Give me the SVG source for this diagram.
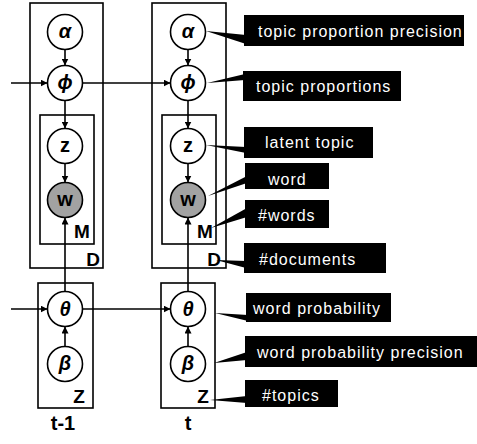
<svg xmlns="http://www.w3.org/2000/svg" width="477" height="444" viewBox="0 0 477 444">
<defs>
<marker id="arr" viewBox="0 0 10 10" refX="10" refY="5" markerWidth="7" markerHeight="7" markerUnits="userSpaceOnUse" orient="auto">
<path d="M0,0 L10,5 L0,10 z" fill="#000"/>
</marker>
</defs>
<style>
.plate{fill:none;stroke:#000;stroke-width:1.6}
.node{fill:#fff;stroke:#000;stroke-width:1.6}
.obs{fill:#a2a2a2;stroke:#000;stroke-width:1.6}
.edge{fill:none;stroke:#000;stroke-width:1.6;marker-end:url(#arr)}
.sym{font-family:"Liberation Sans",Arial,sans-serif;font-weight:bold;font-style:italic;font-size:20px;text-anchor:middle}
.var{font-family:"Liberation Sans",Arial,sans-serif;font-weight:bold;font-size:20px;text-anchor:middle}
.plab{font-family:"Liberation Sans",Arial,sans-serif;font-weight:bold;font-size:19px;text-anchor:middle}
.cbox{fill:#000}
.ctext{font-family:"Liberation Sans",Arial,sans-serif;font-size:16px;letter-spacing:1px;fill:#fff}
</style>
<rect width="477" height="444" fill="#fff"/>
<g id="plates">
<rect class="plate" x="30" y="3" width="73" height="265"/>
<rect class="plate" x="40" y="115" width="54" height="129"/>
<rect class="plate" x="38" y="283" width="55" height="125"/>
<rect class="plate" x="152" y="3" width="74" height="265"/>
<rect class="plate" x="162" y="115" width="54" height="129"/>
<rect class="plate" x="161" y="283" width="54" height="125"/>
<text class="plab" x="82" y="238">M</text>
<text class="plab" x="93" y="266">D</text>
<text class="plab" x="79" y="403">Z</text>
<text class="plab" x="205" y="238">M</text>
<text class="plab" x="214" y="266">D</text>
<text class="plab" x="203" y="403">Z</text>
</g>
<g id="connectors">
<line class="edge" x1="65" y1="49.5" x2="65" y2="65.5"/>
<line class="edge" x1="65" y1="100.5" x2="65" y2="128.5"/>
<line class="edge" x1="65" y1="163.5" x2="65" y2="182.5"/>
<line class="edge" x1="65" y1="291.5" x2="65" y2="217.5"/>
<line class="edge" x1="65" y1="346.5" x2="65" y2="326.5"/>
<line class="edge" x1="11" y1="83" x2="47.5" y2="83"/>
<line class="edge" x1="82.5" y1="83" x2="170.5" y2="83"/>
<line class="edge" x1="11" y1="309" x2="47.5" y2="309"/>
<line class="edge" x1="82.5" y1="309" x2="170.5" y2="309"/>
<line class="edge" x1="188" y1="49.5" x2="188" y2="65.5"/>
<line class="edge" x1="188" y1="100.5" x2="188" y2="128.5"/>
<line class="edge" x1="188" y1="163.5" x2="188" y2="182.5"/>
<line class="edge" x1="188" y1="291.5" x2="188" y2="217.5"/>
<line class="edge" x1="188" y1="346.5" x2="188" y2="326.5"/>
</g>
<g id="alpha-t1"><circle class="node" cx="65" cy="32" r="17.5"/><text class="sym" x="65" y="38">α</text></g>
<g id="phi-t1"><circle class="node" cx="65" cy="83" r="17.5"/><text class="sym" x="65" y="89">ϕ</text></g>
<g id="z-t1"><circle class="node" cx="65" cy="146" r="17.5"/><text class="var" x="65" y="152">z</text></g>
<g id="w-t1"><circle class="obs" cx="65" cy="200" r="17.5"/><text class="var" x="65" y="206">w</text></g>
<g id="theta-t1"><circle class="node" cx="65" cy="309" r="17.5"/><text class="sym" x="65" y="316">θ</text></g>
<g id="beta-t1"><circle class="node" cx="65" cy="364" r="17.5"/><text class="sym" x="65" y="370">β</text></g>
<g id="alpha-t"><circle class="node" cx="188" cy="32" r="17.5"/><text class="sym" x="188" y="38">α</text></g>
<g id="phi-t"><circle class="node" cx="188" cy="83" r="17.5"/><text class="sym" x="188" y="89">ϕ</text></g>
<g id="z-t"><circle class="node" cx="188" cy="146" r="17.5"/><text class="var" x="188" y="152">z</text></g>
<g id="w-t"><circle class="obs" cx="188" cy="200" r="17.5"/><text class="var" x="188" y="206">w</text></g>
<g id="theta-t"><circle class="node" cx="188" cy="309" r="17.5"/><text class="sym" x="188" y="316">θ</text></g>
<g id="beta-t"><circle class="node" cx="188" cy="364" r="17.5"/><text class="sym" x="188" y="370">β</text></g>
<g id="time-labels">
<text class="var" x="63" y="430">t-1</text>
<text class="var" x="188" y="430">t</text>
</g>
<g id="callout-alpha"><polygon class="cbox" points="206,31 246,35 246,44"/><rect class="cbox" x="244" y="15" width="220" height="31"/><text class="ctext" x="258" y="37">topic proportion precision</text></g>
<g id="callout-phi"><polygon class="cbox" points="207,83 245,74 245,80"/><rect class="cbox" x="243" y="71" width="158" height="30"/><text class="ctext" x="256" y="92">topic proportions</text></g>
<g id="callout-z"><polygon class="cbox" points="206,145 246,147 246,153"/><rect class="cbox" x="244" y="127" width="129" height="31"/><text class="ctext" x="265" y="148">latent topic</text></g>
<g id="callout-w"><polygon class="cbox" points="208,196 247,176 247,183"/><rect class="cbox" x="245" y="163" width="84" height="26"/><text class="ctext" x="268" y="185">word</text></g>
<g id="callout-M"><polygon class="cbox" points="211,228 247,208 247,217"/><rect class="cbox" x="245" y="200" width="84" height="28"/><text class="ctext" x="258" y="221">#words</text></g>
<g id="callout-D"><polygon class="cbox" points="216,260 246,261 246,268"/><rect class="cbox" x="244" y="243" width="142" height="30"/><text class="ctext" x="259" y="265">#documents</text></g>
<g id="callout-theta"><polygon class="cbox" points="215,313 248,315 248,321"/><rect class="cbox" x="246" y="293" width="145" height="29"/><text class="ctext" x="253" y="314">word probability</text></g>
<g id="callout-beta"><polygon class="cbox" points="214,363 247,352 247,360"/><rect class="cbox" x="245" y="336" width="232" height="31"/><text class="ctext" x="257" y="358">word probability precision</text></g>
<g id="callout-Z"><polygon class="cbox" points="210,400 247,396 247,403"/><rect class="cbox" x="245" y="380" width="93" height="27"/><text class="ctext" x="262" y="401">#topics</text></g>
</svg>
